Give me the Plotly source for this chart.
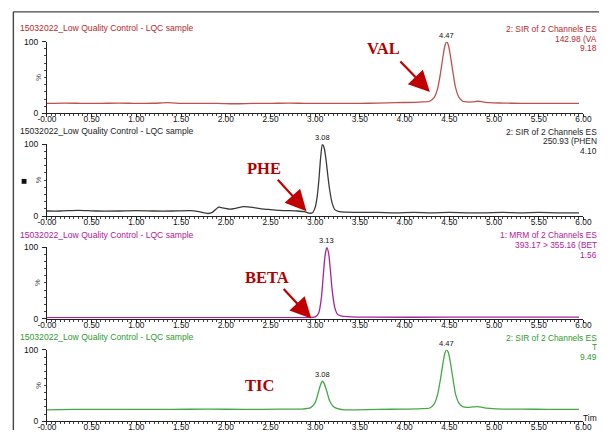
import plotly.graph_objects as go

W, H = 607, 435

# ---------------- data ----------------
sample_title = "15032022_Low Quality Control - LQC sample"

val_t = [0.00, 0.20, 0.40, 0.60, 0.80, 1.00, 1.20, 1.35, 1.50, 1.70, 1.90, 2.10, 2.30, 2.50,
         2.70, 2.90, 3.10, 3.30, 3.50, 3.70, 3.90, 4.10, 4.20, 4.28, 4.33, 4.37, 4.40, 4.43,
         4.45, 4.47, 4.49, 4.51, 4.54, 4.57, 4.61, 4.65, 4.70, 4.76, 4.82, 4.88, 4.95, 5.10,
         5.30, 5.50, 5.70, 5.95]
val_y = [14.0, 14.5, 14.0, 14.0, 14.5, 14.0, 14.2, 15.0, 14.0, 14.0, 14.0, 13.5, 14.0, 14.0,
         14.5, 14.0, 14.0, 14.0, 14.0, 14.5, 15.0, 15.5, 16.0, 17.0, 22.0, 35.0, 55.0, 80.0,
         94.0, 100.0, 95.0, 82.0, 58.0, 36.0, 22.0, 17.0, 16.0, 16.0, 17.0, 16.0, 15.0, 14.5,
         14.0, 14.0, 14.0, 14.0]

phe_t = [0.00, 0.15, 0.35, 0.55, 0.80, 1.00, 1.20, 1.40, 1.60, 1.70, 1.80, 1.85, 1.92, 1.98,
         2.05, 2.12, 2.20, 2.30, 2.40, 2.50, 2.60, 2.70, 2.80, 2.88, 2.93, 2.97, 3.00, 3.02,
         3.04, 3.06, 3.08, 3.10, 3.12, 3.14, 3.16, 3.19, 3.22, 3.27, 3.35, 3.50, 3.70, 3.90,
         4.10, 4.30, 4.50, 4.70, 4.90, 5.10, 5.30, 5.50, 5.70, 5.95]
phe_y = [7.0, 7.0, 8.0, 7.0, 7.0, 7.5, 7.0, 7.0, 7.5, 6.0, 3.5, 5.0, 12.5, 11.0,
         9.5, 11.0, 13.0, 12.0, 10.0, 9.0, 8.0, 7.5, 7.0, 6.0, 4.0, 4.5, 12.0, 25.0,
         48.0, 80.0, 100.0, 95.0, 80.0, 58.0, 38.0, 18.0, 9.0, 6.0, 5.5, 5.0, 5.0, 4.5,
         5.0, 4.5, 5.0, 4.5, 4.5, 5.0, 4.5, 5.0, 4.5, 4.5]

beta_t = [0.00, 1.00, 2.00, 2.90, 3.00, 3.04, 3.07, 3.09, 3.11, 3.13, 3.15, 3.17, 3.19,
          3.22, 3.25, 3.30, 3.40, 3.60, 4.50, 5.95]
beta_y = [1.5, 1.5, 1.5, 1.5, 2.5, 8.0, 30.0, 60.0, 88.0, 100.0, 92.0, 68.0, 40.0,
          15.0, 6.0, 3.5, 2.5, 2.0, 2.0, 2.0]

tic_t = [0.00, 0.30, 0.60, 1.00, 1.40, 1.80, 2.20, 2.60, 2.85, 2.95, 3.00, 3.03, 3.06, 3.08,
         3.10, 3.13, 3.16, 3.20, 3.25, 3.32, 3.45, 3.70, 4.00, 4.20, 4.28, 4.33, 4.37, 4.40,
         4.43, 4.45, 4.47, 4.49, 4.51, 4.54, 4.57, 4.61, 4.65, 4.70, 4.76, 4.82, 4.88, 4.95,
         5.10, 5.30, 5.60, 5.95]
tic_y = [16.0, 16.5, 16.5, 16.5, 16.5, 17.0, 16.5, 17.0, 17.0, 19.0, 26.0, 38.0, 51.0, 56.0,
         53.0, 42.0, 29.0, 21.0, 17.5, 16.0, 16.0, 16.5, 17.0, 17.5, 18.5, 24.0, 38.0, 58.0,
         82.0, 95.0, 100.0, 96.0, 84.0, 60.0, 38.0, 25.0, 20.5, 19.5, 20.0, 20.5, 19.0, 18.0,
         17.0, 17.0, 16.5, 16.5]

x_tickvals = [0.0, 0.5, 1.0, 1.5, 2.0, 2.5, 3.0, 3.5, 4.0, 4.5, 5.0, 5.5, 6.0]
x_ticktext = ["-0.00", "0.50", "1.00", "1.50", "2.00", "2.50", "3.00", "3.50",
              "4.00", "4.50", "5.00", "5.50", "6.00"]

val_peaks = [(4.47, "4.47")]
phe_peaks = [(3.08, "3.08")]
beta_peaks = [(3.13, "3.13")]
tic_peaks = [(3.08, "3.08"), (4.47, "4.47")]

val_info = ["2: SIR of 2 Channels ES", "142.98 (VA", "9.18"]
phe_info = ["2: SIR of 2 Channels ES", "250.93 (PHEN", "4.10"]
beta_info = ["1: MRM of 2 Channels ES", "393.17 > 355.16 (BET", "1.56"]
tic_info = ["2: SIR of 2 Channels ES", "T", "9.49"]

compound_labels = ["VAL", "PHE", "BETA", "TIC"]

# ---------------- layout helpers ----------------
def px(x):
    return x / W

def py(y):
    return 1 - y / H

FONT = "Arial, Liberation Sans, sans-serif"
ARROW = "#C00000"

panels = [
    dict(t=val_t, y=val_y, line="#C0504D", title="#B52A2A", peaks=val_peaks, info=val_info,
         y100=37.5, y0=111, ty=24),
    dict(t=phe_t, y=phe_y, line="#3A3A3A", title="#1E1E1E", peaks=phe_peaks, info=phe_info,
         y100=142.5, y0=216, ty=129),
    dict(t=beta_t, y=beta_y, line="#A8239B", title="#B0209A", peaks=beta_peaks, info=beta_info,
         y100=248, y0=321, ty=235),
    dict(t=tic_t, y=tic_y, line="#45A845", title="#2E9B2E", peaks=tic_peaks, info=tic_info,
         y100=353, y0=426, ty=340),
]

fig = go.Figure()
annotations = []
layout = {}

xdom = [px(39), px(591)]

for i, p in enumerate(panels):
    k = "" if i == 0 else str(i + 1)
    fig.add_trace(go.Scatter(
        x=p["t"], y=p["y"], mode="lines",
        line=dict(color=p["line"], width=1.3, shape="spline", smoothing=0.6),
        xaxis="x" + k, yaxis="y" + k, showlegend=False, hoverinfo="skip"))

    layout["xaxis" + k] = dict(
        domain=xdom, range=[0, 6], anchor="y" + k,
        showline=True, linecolor="#222", linewidth=1,
        tickmode="array", tickvals=x_tickvals, ticktext=x_ticktext,
        ticks="outside", ticklen=3, tickcolor="#222", tickwidth=1,
        ticklabelstandoff=-5,
        minor=dict(tickmode="linear", tick0=0, dtick=0.05, ticks="outside",
                   ticklen=2, tickcolor="#444"),
        tickfont=dict(family=FONT, size=8.3, color="#111"),
        showgrid=False, zeroline=False, fixedrange=True)
    layout["yaxis" + k] = dict(
        domain=[py(p["y0"]), py(p["y100"])], range=[0, 100], anchor="x" + k,
        showline=True, linecolor="#222", linewidth=1,
        tickmode="array", tickvals=[0, 100], ticktext=["0", "100"],
        ticks="outside", ticklen=4, tickcolor="#222",
        ticklabelstandoff=2,
        minor=dict(tickmode="linear", tick0=0, dtick=10, ticks="outside",
                   ticklen=2, tickcolor="#444"),
        tickfont=dict(family=FONT, size=8.5, color="#111"),
        showgrid=False, zeroline=False, fixedrange=True)

    # sample title
    annotations.append(dict(text=sample_title, x=px(9), y=py(p["ty"]), xref="paper", yref="paper",
                            xanchor="left", yanchor="middle", showarrow=False,
                            font=dict(family=FONT, size=8.6, color=p["title"])))
    # right info lines
    for j, s in enumerate(p["info"]):
        annotations.append(dict(text=s, x=1.0, y=py(p["ty"] + 0.5 + 10 * j), xref="paper", yref="paper",
                                xanchor="right", yanchor="middle", showarrow=False,
                                font=dict(family=FONT, size=8.4, color=p["title"])))
    # % label
    annotations.append(dict(text="%", x=px(30), y=py((p["y0"] + p["y100"]) / 2), xref="paper",
                            yref="paper", xanchor="center", yanchor="middle", showarrow=False,
                            textangle=-90, font=dict(family=FONT, size=7.5, color="#444")))
    # peak labels
    for (pt, lab) in p["peaks"]:
        pv = max(v for tt, v in zip(p["t"], p["y"]) if abs(tt - pt) < 1e-9)
        annotations.append(dict(text=lab, x=pt, y=pv, xref="x" + k, yref="y" + k,
                                xanchor="center", yanchor="bottom", yshift=0, showarrow=False,
                                font=dict(family=FONT, size=7.5, color="#111")))

# compound labels (bold serif, dark red) and arrows
label_pos = [(385, 45), (262, 167), (265, 279), (258, 389)]
arrow_pos = [((402, 57), (433, 89)), ((276, 178), (306, 211)), ((282, 290), (311, 321)), None]
for lab, (lx, ly), arr in zip(compound_labels, label_pos, arrow_pos):
    annotations.append(dict(text="<b>" + lab + "</b>", x=px(lx), y=py(ly), xref="paper", yref="paper",
                            xanchor="center", yanchor="middle", showarrow=False,
                            font=dict(family="Liberation Serif, Times New Roman, serif", size=16.5,
                                      color="#B00000")))
    if arr is not None:
        (tx, ty), (hx, hy) = arr
        annotations.append(dict(text="", x=px(hx), y=py(hy), xref="paper", yref="paper",
                                ax=tx - hx, ay=ty - hy, axref="pixel", ayref="pixel",
                                showarrow=True, arrowhead=2, arrowsize=1.9, arrowwidth=2.2,
                                arrowcolor=ARROW, standoff=0))

# "Time" axis caption at bottom right (clipped in the original)
annotations.append(dict(text="Tim", x=1.0, y=py(423), xref="paper", yref="paper",
                        xanchor="right", yanchor="middle", showarrow=False,
                        font=dict(family=FONT, size=8.4, color="#111")))

shapes = [
    dict(type="line", xref="paper", yref="paper", x0=px(4.5), x1=px(4.5), y0=py(7), y1=0,
         line=dict(color="#444", width=1.4)),
    dict(type="line", xref="paper", yref="paper", x0=px(4.5), x1=1, y0=py(7), y1=py(7),
         line=dict(color="#444", width=1.4)),
    dict(type="rect", xref="paper", yref="paper", x0=px(13), x1=px(18), y0=py(183), y1=py(178),
         fillcolor="#111", line=dict(width=0)),
]

fig.update_layout(
    width=W, height=H, margin=dict(l=0, r=0, t=0, b=0),
    paper_bgcolor="white", plot_bgcolor="white",
    annotations=annotations, shapes=shapes, **layout)

fig.write_html("out.html", config=dict(displayModeBar=False),
               post_script="document.body.style.margin='0';document.body.style.overflow='hidden';")
